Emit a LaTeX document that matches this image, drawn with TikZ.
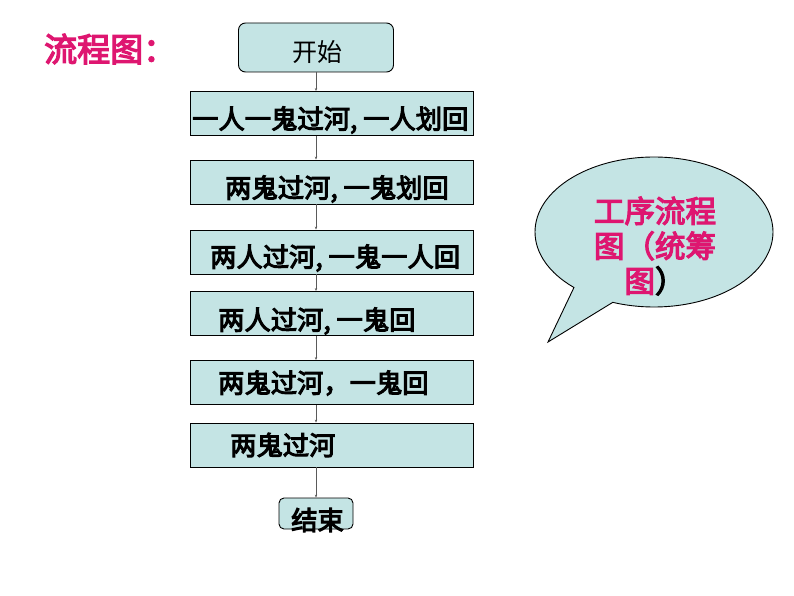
\documentclass[tikz,border=0pt]{standalone}
\usepackage{fontspec}
\newfontfamily\cjk{Noto Sans CJK SC}
\newfontfamily\cjkb[FakeBold=4]{Noto Sans CJK SC}
\usepackage{tikz}
\usetikzlibrary{arrows.meta,shapes.callouts}
\definecolor{boxcyan}{RGB}{196, 228, 228}
\definecolor{titlepink}{RGB}{222, 22, 112}
\definecolor{linegray}{RGB}{90, 90, 90}

\tikzset{
  stepbox/.style = {draw = black, line width = 0.9pt, fill = boxcyan, minimum width = 283pt, minimum height = 44pt, inner sep = 0pt},
  steptext/.style = {anchor = west, inner sep = 0pt, font = \cjkb\fontsize{26.3}{27}\selectfont},
  flow/.style = {draw = linegray, line width = 0.6pt, -{Stealth[length = 3pt, width = 2.4pt]}}
}

\begin{document}
\begin{tikzpicture}[x = 1pt, y = -1pt]
			\useasboundingbox (0,0) rectangle (794,596);
			\node (title) at (44,49) [anchor = west, inner sep = 0pt, text = titlepink, font = \cjkb\fontsize{33}{34}\selectfont] {流程图：};
			% flow chart
			\node (start) at (316,47.5) [stepbox, rounded corners = 7pt, minimum width = 155pt, minimum height = 49pt] {};
			\node (b1) at (331.5,113.5) [stepbox] {};
			\node (b2) at (331.5,182) [stepbox] {};
			\node (b3) at (331.5,252) [stepbox] {};
			\node (b4) at (331.5,313.5) [stepbox] {};
			\node (b5) at (331.5,382.5) [stepbox] {};
			\node (b6) at (331.5,445) [stepbox] {};
			\node (end) at (316,513.5) [stepbox, rounded corners = 5pt, minimum width = 74pt, minimum height = 31pt] {};
			\node (tstart) at (292,52) [steptext, font = \cjk\fontsize{25}{26}\selectfont] {开始};
			\node (t1) at (192,120) [steptext] {一人一鬼过河, 一人划回};
			\node (t2) at (225,189) [steptext] {两鬼过河, 一鬼划回};
			\node (t3) at (210,258) [steptext] {两人过河, 一鬼一人回};
			\node (t4) at (218,321) [steptext] {两人过河, 一鬼回};
			\node (t5) at (218,383) [steptext] {两鬼过河，一鬼回};
			\node (t6) at (230,445) [steptext] {两鬼过河};
			\node (tend) at (291,520) [steptext] {结束};
			\draw[flow] (start) -- (start |- b1.north);
			\draw[flow] (b1.south -| start) -- (b2.north -| start);
			\draw[flow] (b2.south -| start) -- (b3.north -| start);
			\draw[flow] (b3.south -| start) -- (b4.north -| start);
			\draw[flow] (b4.south -| start) -- (b5.north -| start);
			\draw[flow] (b5.south -| start) -- (b6.north -| start);
			\draw[flow] (b6.south -| start) -- (end);
			% speech bubble
			\node (bubble) at (654,232) [ellipse callout, draw = black, line width = 0.9pt, fill = boxcyan, minimum width = 238pt, minimum height = 150pt, callout absolute pointer = {(548,342)}, callout pointer arc = 22] {};
			\node (note) at (655,246) [align = center, inner sep = 0pt, text = titlepink, font = \cjkb\fontsize{30.5}{35}\selectfont] {工序流程\\图（统筹\\图{\color{black}）}};
\end{tikzpicture}
\end{document}
